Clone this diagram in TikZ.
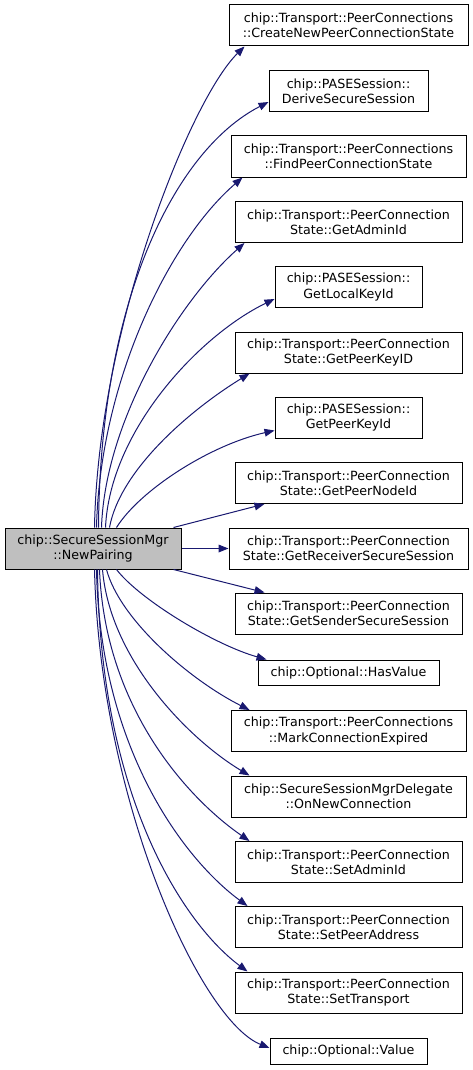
\documentclass[tikz,border=0pt]{standalone}
\usepackage{fontspec}
\setmainfont{DejaVu Sans}
\usetikzlibrary{arrows.meta,calc}
\definecolor{edgeblue}{HTML}{191970}
\definecolor{rootgray}{HTML}{BFBFBF}
\tikzset{
  box/.style={draw=black, line width=0.75pt, fill=white, align=center, inner sep=0pt,
    minimum height=30.75pt, font=\fontsize{9.5}{11.5}\selectfont},
  edge/.style={draw=edgeblue, line width=0.75pt, -{Triangle[length=7.5pt,width=5.8pt]}},
}
\begin{document}
\begin{tikzpicture}[x=0.75pt,y=-0.75pt]
\useasboundingbox (0,0) rectangle (473,1070);
% root
\node[box, fill=rootgray, minimum width=132pt] (np) at (93,548.5) {chip::SecureSessionMgr\\::NewPairing};
% callees
\node[box, minimum width=179.25pt] (cn) at (348.5,25.5) {chip::Transport::PeerConnections\\::CreateNewPeerConnectionState};
\node[box, minimum width=119.25pt] (ds) at (348.5,91) {chip::PASESession::\\DeriveSecureSession};
\node[box, minimum width=176.25pt] (fp) at (348.5,156.5) {chip::Transport::PeerConnections\\::FindPeerConnectionState};
\node[box, minimum width=170.25pt] (ga) at (348.5,222) {chip::Transport::PeerConnection\\State::GetAdminId};
\node[box, minimum width=110.25pt] (lk) at (348.5,287) {chip::PASESession::\\GetLocalKeyId};
\node[box, minimum width=170.25pt] (pk) at (348.5,352.5) {chip::Transport::PeerConnection\\State::GetPeerKeyID};
\node[box, minimum width=110.25pt] (ppk) at (348.5,417.5) {chip::PASESession::\\GetPeerKeyId};
\node[box, minimum width=170.25pt] (pn) at (348.5,483) {chip::Transport::PeerConnection\\State::GetPeerNodeId};
\node[box, minimum width=179.25pt] (rs) at (348.5,548.5) {chip::Transport::PeerConnection\\State::GetReceiverSecureSession};
\node[box, minimum width=170.25pt] (ss) at (348.5,613.5) {chip::Transport::PeerConnection\\State::GetSenderSecureSession};
\node[box, minimum width=135.75pt, minimum height=18.75pt] (hv) at (348.5,672.5) {chip::Optional::HasValue};
\node[box, minimum width=176.25pt] (mc) at (348.5,731) {chip::Transport::PeerConnections\\::MarkConnectionExpired};
\node[box, minimum width=176.25pt] (on) at (348.5,796.5) {chip::SecureSessionMgrDelegate\\::OnNewConnection};
\node[box, minimum width=170.25pt] (sa) at (348.5,862) {chip::Transport::PeerConnection\\State::SetAdminId};
\node[box, minimum width=170.25pt] (sp) at (348.5,927) {chip::Transport::PeerConnection\\State::SetPeerAddress};
\node[box, minimum width=170.25pt] (st) at (348.5,992.5) {chip::Transport::PeerConnection\\State::SetTransport};
\node[box, minimum width=117.75pt, minimum height=19.5pt] (v) at (348.5,1051) {chip::Optional::Value};
% upward edges
\draw[edge] ($(np.north west)+(90,0)$) .. controls (98,330) and (190,100) .. ($(cn.south west)+(16,0)$);
\draw[edge] ($(np.north west)+(94,0)$) .. controls (100,300) and (175,150) .. ($(ds.west)+(0,11)$);
\draw[edge] ($(np.north west)+(92,0)$) .. controls (100,380) and (170,240) .. ($(fp.south west)+(12,0)$);
\draw[edge] ($(np.north west)+(97,0)$) .. controls (105,420) and (180,300) .. ($(ga.south west)+(10,0)$);
\draw[edge] ($(np.north west)+(101,0)$) .. controls (110,430) and (200,335) .. ($(lk.west)+(0,12)$);
\draw[edge] ($(np.north west)+(105,0)$) .. controls (120,470) and (190,410) .. ($(pk.south west)+(15,0)$);
\draw[edge] ($(np.north west)+(112,0)$) .. controls (140,490) and (210,445) .. ($(ppk.west)+(0,13)$);
\draw[edge] ($(np.north east)+(-8,0)$) -- ($(pn.south west)+(30,0)$);
% horizontal
\draw[edge] (np.east) -- (rs.west);
% downward edges
\draw[edge] ($(np.south east)+(-8,0)$) -- ($(ss.north west)+(30,0)$);
\draw[edge] ($(np.south west)+(112,0)$) .. controls (140,600) and (215,645) .. ($(hv.north west)+(9,0)$);
\draw[edge] ($(np.south west)+(102,0)$) .. controls (120,620) and (190,680) .. ($(mc.north west)+(19,0)$);
\draw[edge] ($(np.south west)+(98,0)$) .. controls (110,660) and (190,740) .. ($(on.north west)+(19,0)$);
\draw[edge] ($(np.south west)+(95,0)$) .. controls (105,710) and (190,800) .. ($(sa.north west)+(15,0)$);
\draw[edge] ($(np.south west)+(92,0)$) .. controls (100,750) and (185,860) .. ($(sp.north west)+(13,0)$);
\draw[edge] ($(np.south west)+(93,0)$) .. controls (100,800) and (185,925) .. ($(st.north west)+(13,0)$);
\draw[edge] ($(np.south west)+(90,0)$) .. controls (100,800) and (200,1020) .. ($(v.west)+(0,-3)$);
\end{tikzpicture}
\end{document}
